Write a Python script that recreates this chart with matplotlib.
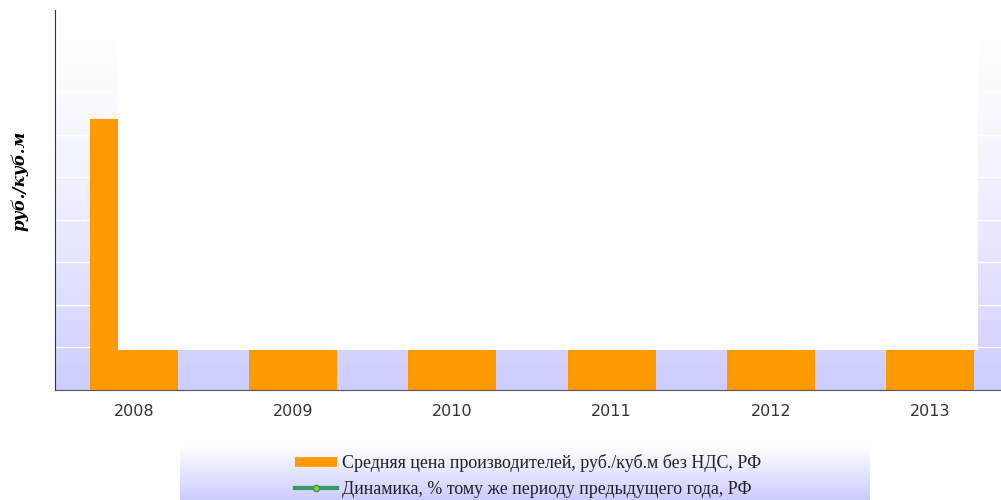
import numpy as np
import matplotlib.pyplot as plt
from matplotlib.lines import Line2D

# data
years = ['2008', '2009', '2010', '2011', '2012', '2013']
price = [638, 560, 590, 610, 650, 690]   # руб./куб.м, only 2008 top is visible
price_label = 'Средняя цена производителей, руб./куб.м без НДС, РФ'
dyn_label = 'Динамика, % тому же периоду предыдущего года, РФ'

fig = plt.figure(figsize=(10.01, 5.0), dpi=100)

ax = fig.add_axes([55/1001, 110/500, 946/1001, 380/500])
ymax = 894
ax.set_xlim(-0.496, 5.446)
ax.set_ylim(0, ymax)

# gradient background white -> lavender
grad = np.linspace(0, 1, 256).reshape(-1, 1) ** 1.6
lav = np.array([0xcc, 0xcc, 0xff]) / 255.0
img = np.ones((256, 1, 3)) * (1 - grad[..., None]) + lav * grad[..., None]
ax.imshow(img, extent=[-0.496, 5.446, 0, ymax], aspect='auto', zorder=0)

for g in range(100, ymax, 100):
    ax.axhline(g, color='white', lw=1, zorder=1)

xs = np.arange(len(years))
ax.bar(xs, price, width=0.553, color='#ff9900', zorder=2)

ax.set_xticks(xs)
ax.set_xticklabels(years, fontsize=11.5, color='#333333', family='DejaVu Sans')
ax.tick_params(axis='x', length=0, pad=10)
ax.set_yticks([])
for s in ['top', 'right']:
    ax.spines[s].set_visible(False)
ax.spines['left'].set_color('#333333')
ax.spines['bottom'].set_color('#555555')

# panel for the dynamics series (white, drawn on top)
ax2 = fig.add_axes([118/1001, 150/500, 860/1001, 350/500])
ax2.set_facecolor('white')
ax2.set_xticks([])
ax2.set_yticks([])
for s in ax2.spines.values():
    s.set_visible(False)

fig.text(20/1001, 1 - 181/500, 'руб./куб.м', rotation=90, ha='center', va='center',
         fontsize=12, fontweight='bold', fontstyle='italic', family='DejaVu Serif')

# legend box with gradient
lgrad = np.linspace(0, 1, 256).reshape(-1, 1)
limg = np.ones((256, 1, 3)) * (1 - lgrad[..., None]) + lav * lgrad[..., None]
lax = fig.add_axes([180/1001, 0, 690/1001, 55/500])
lax.imshow(limg, extent=[0, 1, 0, 1], aspect='auto')
lax.set_xlim(0, 1)
lax.set_ylim(0, 1)
lax.axis('off')

handles = [Line2D([], [], color='#ff9900', lw=7, solid_capstyle='butt'),
           Line2D([], [], color='#33996a', lw=3, marker='o', markersize=4.5,
                  markerfacecolor='#99cc00', markeredgecolor='#33996a')]
fig.legend(handles, [price_label, dyn_label], loc='center', bbox_to_anchor=(528/1001, 24/500),
           frameon=False, prop={'family': 'Liberation Serif', 'size': 12.9}, handlelength=2.35,
           handletextpad=0.28, labelspacing=0.52, labelcolor='#222222',
           borderpad=0, borderaxespad=0)

fig.savefig('out.png', dpi=100)
